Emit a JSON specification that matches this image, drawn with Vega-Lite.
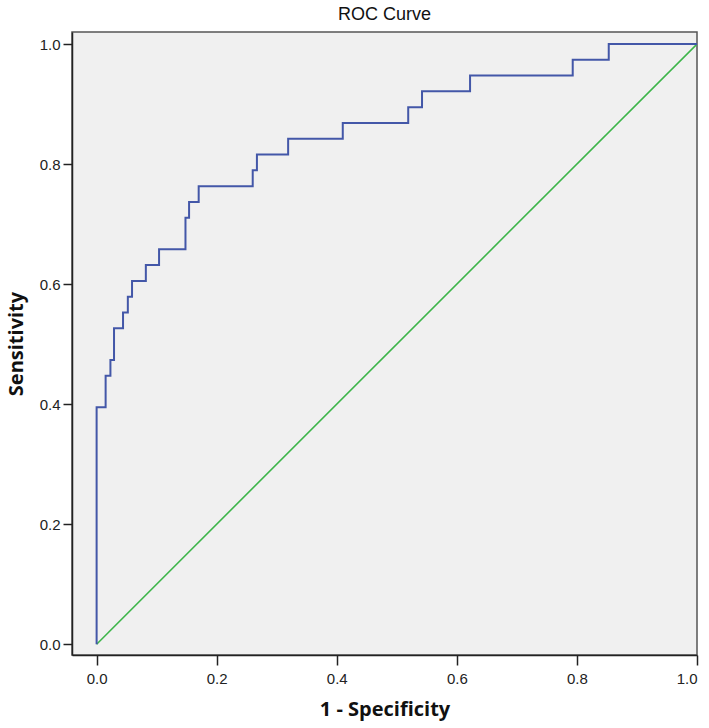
{
  "$schema": "https://vega.github.io/schema/vega-lite/v6.json",
  "width": 625,
  "height": 623,
  "autosize": {"type": "none"},
  "padding": {"left": 72, "top": 32, "right": 12, "bottom": 73},
  "background": "white",
  "title": {"text": "ROC Curve", "fontSize": 18, "font": "Liberation Sans", "fontWeight": "normal", "color": "#111", "offset": 8},
  "config": {
    "view": {"fill": "#f0f0f0", "stroke": "#555", "strokeWidth": 1.5},
    "axis": {
      "grid": false,
      "domainColor": "#222",
      "domainWidth": 1.5,
      "tickColor": "#222",
      "tickWidth": 1.5,
      "tickSize": 9,
      "labelFont": "Liberation Sans",
      "labelFontSize": 15,
      "labelColor": "#222",
      "labelPadding": 3,
      "titleFont": "Open Sans",
      "titleFontSize": 20,
      "titleFontWeight": "bold",
      "titleColor": "#111"
    }
  },
  "layer": [
    {
      "data": {"values": [{"fpr": 0, "tpr": 0}, {"fpr": 1, "tpr": 1}]},
      "mark": {"type": "line", "color": "#3db54a", "strokeWidth": 1.6, "clip": true},
      "encoding": {
        "x": {"field": "fpr", "type": "quantitative", "scale": {"domain": [-0.041, 1.0], "nice": false, "zero": false},
              "axis": {"values": [0, 0.2, 0.4, 0.6, 0.8, 1.0], "format": ".1f", "title": "1 - Specificity", "tickSize": 10, "labelPadding": 6, "titlePadding": 13}},
        "y": {"field": "tpr", "type": "quantitative", "scale": {"domain": [-0.018, 1.02], "nice": false, "zero": false},
              "axis": {"values": [0, 0.2, 0.4, 0.6, 0.8, 1.0], "format": ".1f", "title": "Sensitivity", "titlePadding": 13}}
      }
    },
    {
      "data": {"values": [
        {"i": 0, "fpr": 0.0, "tpr": 0.0},
        {"i": 1, "fpr": 0.0, "tpr": 0.3947},
        {"i": 2, "fpr": 0.015, "tpr": 0.4474},
        {"i": 3, "fpr": 0.023, "tpr": 0.4737},
        {"i": 4, "fpr": 0.029, "tpr": 0.5263},
        {"i": 5, "fpr": 0.044, "tpr": 0.5526},
        {"i": 6, "fpr": 0.052, "tpr": 0.5789},
        {"i": 7, "fpr": 0.059, "tpr": 0.6053},
        {"i": 8, "fpr": 0.082, "tpr": 0.6316},
        {"i": 9, "fpr": 0.104, "tpr": 0.6579},
        {"i": 10, "fpr": 0.148, "tpr": 0.7105},
        {"i": 11, "fpr": 0.154, "tpr": 0.7368},
        {"i": 12, "fpr": 0.170, "tpr": 0.7632},
        {"i": 13, "fpr": 0.260, "tpr": 0.7895},
        {"i": 14, "fpr": 0.267, "tpr": 0.8158},
        {"i": 15, "fpr": 0.319, "tpr": 0.8421},
        {"i": 16, "fpr": 0.410, "tpr": 0.8684},
        {"i": 17, "fpr": 0.519, "tpr": 0.8947},
        {"i": 18, "fpr": 0.542, "tpr": 0.9211},
        {"i": 19, "fpr": 0.622, "tpr": 0.9474},
        {"i": 20, "fpr": 0.793, "tpr": 0.9737},
        {"i": 21, "fpr": 0.853, "tpr": 1.0},
        {"i": 22, "fpr": 1.0, "tpr": 1.0}
      ]},
      "mark": {"type": "line", "color": "#4357a8", "strokeWidth": 2, "interpolate": "step-after", "clip": true},
      "encoding": {
        "x": {"field": "fpr", "type": "quantitative"},
        "y": {"field": "tpr", "type": "quantitative"},
        "order": {"field": "i", "type": "quantitative"}
      }
    }
  ]
}
